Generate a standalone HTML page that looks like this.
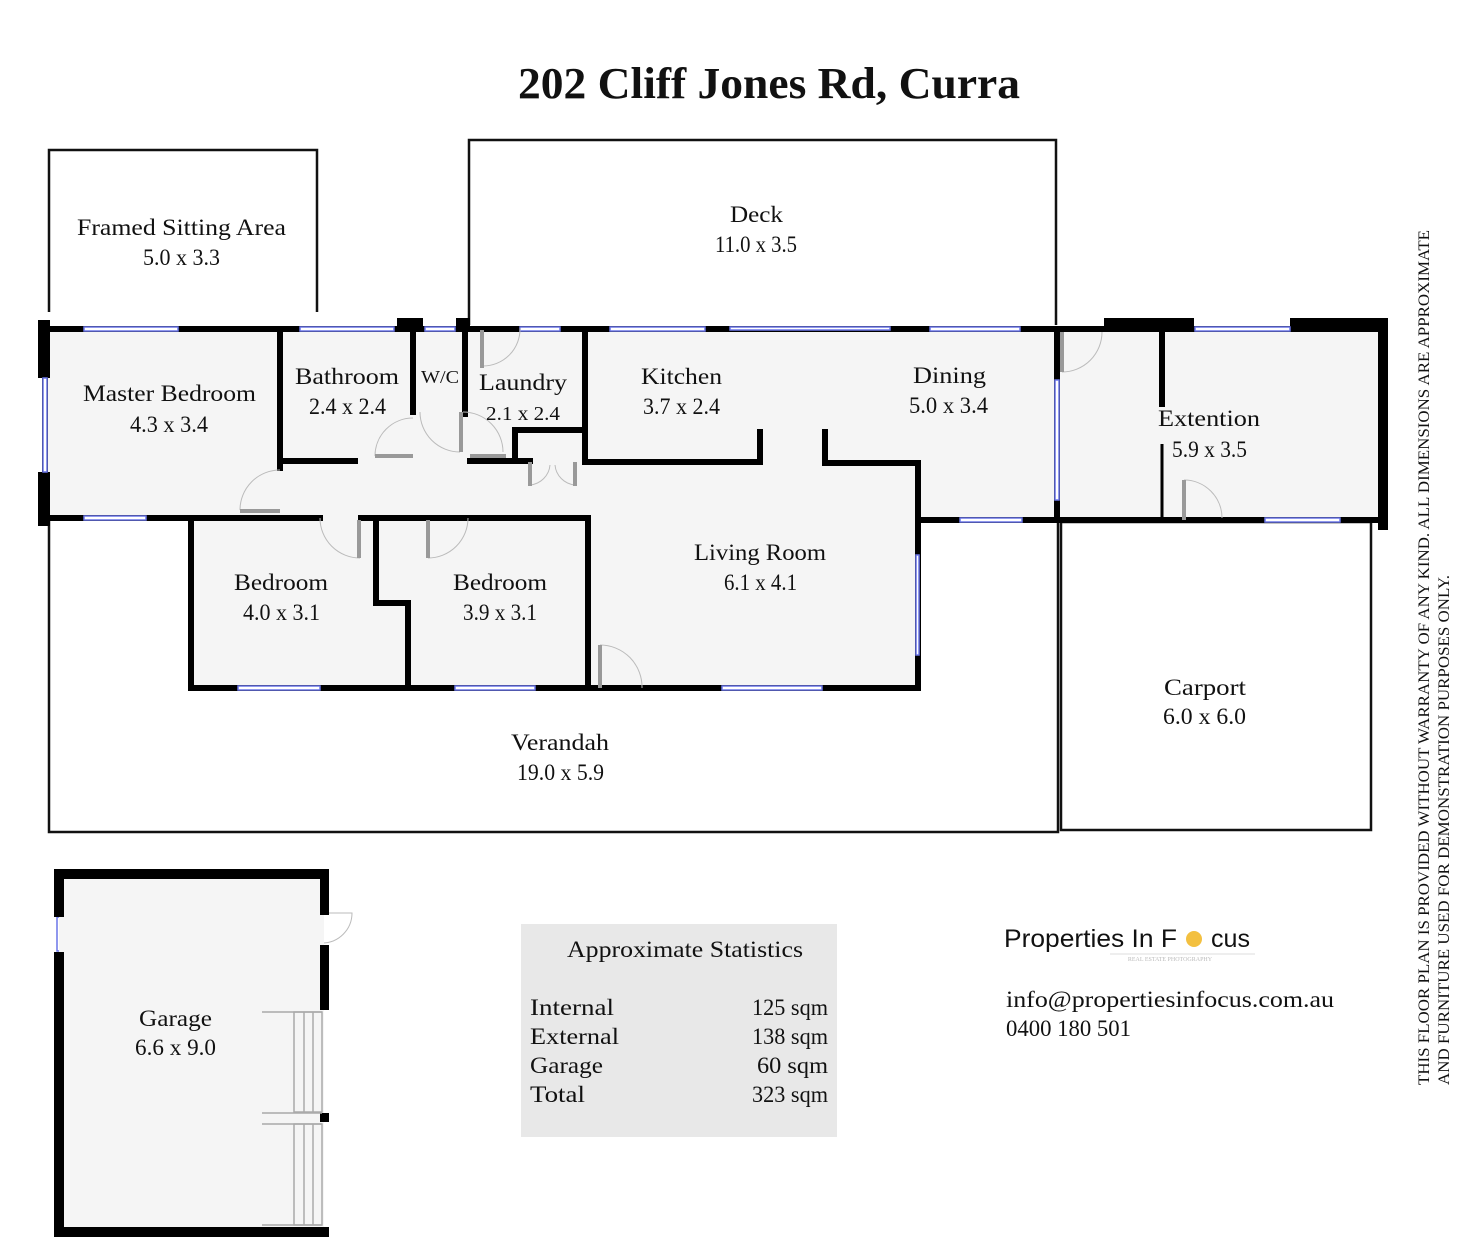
<!DOCTYPE html>
<html><head><meta charset="utf-8"><style>
html,body{margin:0;padding:0;background:#fff;}
svg{display:block;}
text{font-family:"Liberation Serif",serif;fill:#111;}
</style></head><body>
<svg width="1472" height="1249" viewBox="0 0 1472 1249" xmlns="http://www.w3.org/2000/svg">
<text x="769" y="98" font-size="44" font-weight="bold" text-anchor="middle" textLength="502" lengthAdjust="spacingAndGlyphs">202 Cliff Jones Rd, Curra</text>

<g fill="none" stroke="#111" stroke-width="2.5">
<polyline points="49,312 49,150 317,150 317,312"/>
<polyline points="469,325 469,140 1056,140 1056,325"/>
<rect x="49" y="518" width="1009" height="314"/>
<rect x="1061" y="522" width="310" height="308"/>
</g>

<g fill="#f5f5f5">
<rect x="45" y="328" width="1013" height="190"/>
<rect x="191" y="518" width="397" height="170"/>
<rect x="588" y="462" width="330" height="226"/>
<rect x="1058" y="328" width="325" height="192"/>
<rect x="918" y="462" width="140" height="58"/>
</g>

<g stroke="#000" stroke-width="6" stroke-linecap="square" fill="none">
<line x1="45" y1="329" x2="1058" y2="329"/>
<line x1="45" y1="329" x2="45" y2="523"/>
<line x1="45" y1="518" x2="320" y2="518"/>
<line x1="280" y1="330" x2="280" y2="468"/>
<line x1="282" y1="461" x2="355" y2="461"/>
<line x1="413" y1="330" x2="413" y2="412"/>
<line x1="465" y1="330" x2="465" y2="414"/>
<line x1="470" y1="461" x2="530" y2="461"/>
<line x1="515" y1="430" x2="515" y2="461"/>
<line x1="515" y1="430" x2="585" y2="430"/>
<line x1="585" y1="330" x2="585" y2="462"/>
<line x1="585" y1="462" x2="760" y2="462"/>
<line x1="760" y1="432" x2="760" y2="462"/>
<line x1="825" y1="432" x2="825" y2="463"/>
<line x1="825" y1="463" x2="918" y2="463"/>
<line x1="918" y1="463" x2="918" y2="688"/>
<line x1="918" y1="520" x2="1385" y2="520"/>
<line x1="1057" y1="329" x2="1057" y2="520"/>
<line x1="1162" y1="333" x2="1162" y2="404"/>
<line x1="1060" y1="329" x2="1385" y2="329"/>
<line x1="191" y1="518" x2="191" y2="688"/>
<line x1="191" y1="688" x2="918" y2="688"/>
<line x1="361" y1="518" x2="470" y2="518"/>
<line x1="376" y1="518" x2="376" y2="603"/>
<line x1="376" y1="603" x2="408" y2="603"/>
<line x1="408" y1="603" x2="408" y2="688"/>
<line x1="470" y1="518" x2="588" y2="518"/>
<line x1="588" y1="518" x2="588" y2="688"/>
</g>
<line x1="1162" y1="444" x2="1162" y2="520" stroke="#000" stroke-width="3"/>
<g fill="#000">
<rect x="38" y="320" width="12" height="58"/>
<rect x="38" y="472" width="12" height="54"/>
<rect x="397" y="318" width="26" height="14"/>
<rect x="456" y="318" width="14" height="14"/>
<rect x="1104" y="318" width="90" height="14"/>
<rect x="1290" y="318" width="98" height="14"/>
<rect x="1378" y="318" width="10" height="212"/>
</g>

<g fill="#fff" stroke="#6a75e8" stroke-width="1.5">
<rect x="84" y="327" width="94" height="4"/>
<rect x="300" y="327" width="94" height="4"/>
<rect x="425" y="327" width="30" height="4"/>
<rect x="520" y="327" width="40" height="4"/>
<rect x="610" y="327" width="95" height="4"/>
<rect x="730" y="327" width="160" height="3"/>
<rect x="930" y="327" width="90" height="4"/>
<rect x="1195" y="327" width="95" height="4"/>
<rect x="84" y="516" width="62" height="4"/>
<rect x="238" y="686" width="82" height="4"/>
<rect x="455" y="686" width="80" height="4"/>
<rect x="722" y="686" width="100" height="4"/>
<rect x="960" y="518" width="62" height="4"/>
<rect x="1265" y="518" width="75" height="4"/>
<rect x="43" y="378" width="4" height="94"/>
<rect x="1055" y="380" width="4" height="120"/>
<rect x="916" y="555" width="3" height="100"/>
<rect x="57" y="917" width="5" height="34"/>
</g>

<g fill="none" stroke="#bbb" stroke-width="1">
<path d="M240,510 A40,40 0 0 1 280,470"/>
<path d="M320,518 A40,40 0 0 0 360,558"/>
<path d="M428,558 A40,40 0 0 0 468,518"/>
<path d="M375,456 A38,38 0 0 1 413,418"/>
<path d="M420,412 A40,40 0 0 0 460,452"/>
<path d="M463,412 A40,40 0 0 1 503,452"/>
<path d="M483,366 A37,37 0 0 0 520,328"/>
<path d="M600,645 A42,42 0 0 1 642,688"/>
<path d="M1062,372 A40,40 0 0 0 1102,332"/>
<path d="M1184,480 A38,38 0 0 1 1222,518"/>
<path d="M530,485 A22,22 0 0 0 550,465 M575,485 A22,22 0 0 1 555,465"/>
<path d="M322,913 L352,913 A30,30 0 0 1 322,943"/>
</g>
<g stroke="#999" stroke-width="4">
<line x1="240" y1="511" x2="280" y2="511"/>
<line x1="359" y1="520" x2="359" y2="558"/>
<line x1="428" y1="520" x2="428" y2="558"/>
<line x1="375" y1="456" x2="413" y2="456"/>
<line x1="461" y1="412" x2="461" y2="452"/>
<line x1="470" y1="456" x2="506" y2="456"/>
<line x1="482" y1="330" x2="482" y2="368"/>
<line x1="600" y1="645" x2="600" y2="688"/>
<line x1="1062" y1="332" x2="1062" y2="372"/>
<line x1="1184" y1="480" x2="1184" y2="520"/>
<line x1="530" y1="462" x2="530" y2="486"/>
<line x1="575" y1="462" x2="575" y2="486"/>
</g>

<rect x="59" y="874" width="265" height="358" fill="#f5f5f5"/>
<g fill="#000">
<rect x="54" y="869" width="275" height="10"/>
<rect x="54" y="1227" width="275" height="10"/>
<rect x="54" y="869" width="10" height="48"/>
<rect x="54" y="952" width="10" height="285"/>
<rect x="320" y="869" width="9" height="46"/>
<rect x="320" y="945" width="9" height="65"/>
<rect x="320" y="1113" width="9" height="9"/>
</g>
<g fill="none" stroke="#aaa" stroke-width="1.5">
<line x1="262" y1="1012" x2="322" y2="1012"/>
<line x1="262" y1="1113" x2="322" y2="1113"/>
<line x1="262" y1="1124" x2="322" y2="1124"/>
<line x1="262" y1="1225" x2="322" y2="1225"/>
<rect x="294" y="1012" width="28" height="100"/>
<rect x="294" y="1124" width="28" height="101"/>
<line x1="304" y1="1012" x2="304" y2="1112"/><line x1="313" y1="1012" x2="313" y2="1112"/>
<line x1="304" y1="1124" x2="304" y2="1225"/><line x1="313" y1="1124" x2="313" y2="1225"/>
</g>

<g font-size="23">
<text x="77" y="235" textLength="209" lengthAdjust="spacingAndGlyphs">Framed Sitting Area</text><text x="143" y="265" textLength="77" lengthAdjust="spacingAndGlyphs">5.0 x 3.3</text>
<text x="730" y="222" textLength="53" lengthAdjust="spacingAndGlyphs">Deck</text><text x="715" y="252" textLength="82" lengthAdjust="spacingAndGlyphs">11.0 x 3.5</text>
<text x="83" y="401" textLength="173" lengthAdjust="spacingAndGlyphs">Master Bedroom</text><text x="130" y="432" textLength="78" lengthAdjust="spacingAndGlyphs">4.3 x 3.4</text>
<text x="295" y="384" textLength="104" lengthAdjust="spacingAndGlyphs">Bathroom</text><text x="309" y="414" textLength="77" lengthAdjust="spacingAndGlyphs">2.4 x 2.4</text>
<text x="421" y="383" font-size="18" textLength="38" lengthAdjust="spacingAndGlyphs">W/C</text>
<text x="479" y="390" textLength="88" lengthAdjust="spacingAndGlyphs">Laundry</text><text x="486" y="420" font-size="20" textLength="74" lengthAdjust="spacingAndGlyphs">2.1 x 2.4</text>
<text x="641" y="384" textLength="81" lengthAdjust="spacingAndGlyphs">Kitchen</text><text x="643" y="414" textLength="77" lengthAdjust="spacingAndGlyphs">3.7 x 2.4</text>
<text x="913" y="383" textLength="73" lengthAdjust="spacingAndGlyphs">Dining</text><text x="909" y="413" textLength="79" lengthAdjust="spacingAndGlyphs">5.0 x 3.4</text>
<text x="1158" y="426" textLength="102" lengthAdjust="spacingAndGlyphs">Extention</text><text x="1172" y="457" textLength="75" lengthAdjust="spacingAndGlyphs">5.9 x 3.5</text>
<text x="234" y="590" textLength="94" lengthAdjust="spacingAndGlyphs">Bedroom</text><text x="243" y="620" textLength="77" lengthAdjust="spacingAndGlyphs">4.0 x 3.1</text>
<text x="453" y="590" textLength="94" lengthAdjust="spacingAndGlyphs">Bedroom</text><text x="463" y="620" textLength="74" lengthAdjust="spacingAndGlyphs">3.9 x 3.1</text>
<text x="694" y="560" textLength="132" lengthAdjust="spacingAndGlyphs">Living Room</text><text x="724" y="590" textLength="73" lengthAdjust="spacingAndGlyphs">6.1 x 4.1</text>
<text x="511" y="750" textLength="98" lengthAdjust="spacingAndGlyphs">Verandah</text><text x="517" y="780" textLength="87" lengthAdjust="spacingAndGlyphs">19.0 x 5.9</text>
<text x="1164" y="695" textLength="82" lengthAdjust="spacingAndGlyphs">Carport</text><text x="1163" y="724" textLength="83" lengthAdjust="spacingAndGlyphs">6.0 x 6.0</text>
<text x="139" y="1026" textLength="73" lengthAdjust="spacingAndGlyphs">Garage</text><text x="135" y="1055" textLength="81" lengthAdjust="spacingAndGlyphs">6.6 x 9.0</text>
</g>

<rect x="521" y="924" width="316" height="213" fill="#e8e8e8"/>
<g font-size="23">
<text x="567" y="957" textLength="236" lengthAdjust="spacingAndGlyphs">Approximate Statistics</text>
<text x="530" y="1015" textLength="84" lengthAdjust="spacingAndGlyphs">Internal</text><text x="752" y="1015" textLength="76" lengthAdjust="spacingAndGlyphs">125 sqm</text>
<text x="530" y="1044" textLength="89" lengthAdjust="spacingAndGlyphs">External</text><text x="752" y="1044" textLength="76" lengthAdjust="spacingAndGlyphs">138 sqm</text>
<text x="530" y="1073" textLength="73" lengthAdjust="spacingAndGlyphs">Garage</text><text x="757" y="1073" textLength="71" lengthAdjust="spacingAndGlyphs">60 sqm</text>
<text x="530" y="1102" textLength="55" lengthAdjust="spacingAndGlyphs">Total</text><text x="752" y="1102" textLength="76" lengthAdjust="spacingAndGlyphs">323 sqm</text>
</g>

<text x="1004" y="947" font-size="25" style="font-family:'Liberation Sans',sans-serif" textLength="173" lengthAdjust="spacingAndGlyphs">Properties In F</text>
<circle cx="1194" cy="939" r="8" fill="#f3c040"/>
<text x="1211" y="947" font-size="25" style="font-family:'Liberation Sans',sans-serif" textLength="39" lengthAdjust="spacingAndGlyphs">cus</text>
<line x1="1110" y1="954" x2="1255" y2="954" stroke="#ddd" stroke-width="1"/>
<text x="1170" y="961" font-size="6" text-anchor="middle" style="fill:#bbb">REAL ESTATE PHOTOGRAPHY</text>
<text x="1006" y="1007" font-size="23" textLength="328" lengthAdjust="spacingAndGlyphs">info@propertiesinfocus.com.au</text>
<text x="1006" y="1036" font-size="23" textLength="125" lengthAdjust="spacingAndGlyphs">0400 180 501</text>

<g font-size="15.5">
<text transform="translate(1429,1085) rotate(-90)" textLength="855" lengthAdjust="spacingAndGlyphs">THIS FLOOR PLAN IS PROVIDED WITHOUT WARRANTY OF ANY KIND. ALL DIMENSIONS ARE APPROXIMATE</text>
<text transform="translate(1449,1085) rotate(-90)" textLength="510" lengthAdjust="spacingAndGlyphs">AND FURNITURE USED FOR DEMONSTRATION PURPOSES ONLY.</text>
</g>
</svg>
</body></html>
